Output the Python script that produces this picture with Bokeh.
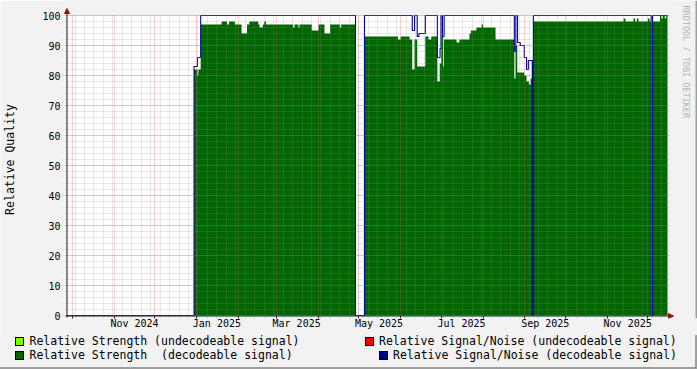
import math
import pandas as pd
from bokeh.plotting import figure
from bokeh.layouts import column
from bokeh.models import (Range1d, FixedTicker, LinearAxis, Grid, Label, Div,
                          BoxAnnotation, Arrow, NormalHead)
from bokeh.embed import file_html
from bokeh.resources import INLINE

# ---------------- data ----------------
X_START = "2024-09-27 10:00"
X_END = "2025-12-15 12:00"

# Relative Strength (decodeable signal): value holds from date until next date
strength_dates = [
    "2024-12-30 02:00", "2025-01-01 14:00", "2025-01-02 06:00", "2025-01-04 00:00",
    "2025-01-19 12:00", "2025-01-23 12:00", "2025-01-25 00:00", "2025-01-29 06:00",
    "2025-02-03 06:00", "2025-02-07 06:00", "2025-02-09 00:00", "2025-02-15 14:00",
    "2025-02-16 14:00", "2025-02-18 22:00", "2025-02-20 02:00", "2025-02-21 07:00",
    "2025-03-13 10:00", "2025-03-14 10:00", "2025-03-17 08:00", "2025-03-18 02:00",
    "2025-03-27 05:00", "2025-04-01 05:00", "2025-04-05 15:00", "2025-04-09 19:00",
    "2025-04-17 00:00", "2025-04-18 00:00", "2025-04-28 14:00", "2025-05-05 05:00",
    "2025-05-30 00:00", "2025-06-01 00:00", "2025-06-07 14:00", "2025-06-09 14:00",
    "2025-06-11 06:00", "2025-06-13 06:00", "2025-06-19 06:00", "2025-06-21 16:00",
    "2025-06-23 16:00", "2025-06-28 04:00", "2025-06-29 22:00", "2025-07-01 02:00",
    "2025-07-02 10:00", "2025-07-03 02:00", "2025-07-12 08:00", "2025-07-14 12:00",
    "2025-07-21 22:00", "2025-07-23 00:00", "2025-07-27 02:00", "2025-07-31 00:00",
    "2025-08-01 00:00", "2025-08-10 05:00", "2025-08-24 03:00", "2025-08-25 00:00",
    "2025-08-26 08:00", "2025-08-31 12:00", "2025-09-02 04:00", "2025-09-03 22:00",
    "2025-09-05 05:00", "2025-09-06 10:00", "2025-09-07 05:00", "2025-11-13 00:00",
    "2025-11-14 10:00", "2025-11-20 08:00", "2025-11-21 12:00", "2025-11-22 18:00",
    "2025-11-24 00:00", "2025-12-01 00:00", "2025-12-02 06:00", "2025-12-03 10:00",
    "2025-12-04 10:00", "2025-12-09 22:00", "2025-12-11 00:00", "2025-12-12 00:00",
    "2025-12-13 12:00", "2025-12-14 12:00",
]
strength_values = [
    82, 80, 82, 97,
    98, 97, 98, 97,
    94, 97, 98, 97,
    96, 97, 98, 97,
    96, 97, 96, 97,
    95, 97, 94, 97,
    96, 97, 0, 93,
    92, 93, 92, 82,
    92, 83, 93, 92,
    93, 78, 84, 93,
    83, 92, 91, 92,
    94, 95, 96, 97,
    96, 92, 79, 90,
    81, 80, 78, 77,
    79, 0, 98, 99,
    98, 99, 98, 99,
    98, 99, 98, 0,
    98, 100, 99, 100,
    99, 100,
]

# Relative Signal/Noise (decodeable signal)
sn_dates = [
    "2024-09-27 10:00", "2024-12-30 02:00", "2025-01-01 14:00", "2025-01-04 00:00",
    "2025-04-28 14:00", "2025-05-05 05:00", "2025-06-09 14:00", "2025-06-11 06:00",
    "2025-06-13 06:00", "2025-06-14 12:00", "2025-06-19 06:00", "2025-06-28 04:00",
    "2025-06-30 04:00", "2025-06-30 20:00", "2025-07-01 22:00", "2025-07-03 04:00",
    "2025-08-24 03:00", "2025-08-25 06:00", "2025-08-26 12:00", "2025-08-28 12:00",
    "2025-08-31 12:00", "2025-09-02 04:00", "2025-09-03 12:00", "2025-09-06 10:00",
    "2025-09-07 05:00", "2025-12-03 10:00", "2025-12-04 10:00",
]
sn_values = [
    0, 83, 86, 100,
    0, 100, 95, 100,
    93, 94, 100, 86,
    89, 100, 93, 100,
    88, 100, 91, 90,
    86, 82, 85, 0,
    100, 0, 100,
]

month_starts = ["2024-10-01", "2024-11-01", "2024-12-01", "2025-01-01", "2025-02-01",
                "2025-03-01", "2025-04-01", "2025-05-01", "2025-06-01", "2025-07-01",
                "2025-08-01", "2025-09-01", "2025-10-01", "2025-11-01", "2025-12-01"]
month_label_dates = ["2024-11-16", "2025-01-16", "2025-03-16", "2025-05-16",
                     "2025-07-16", "2025-09-16", "2025-11-16"]
month_labels = ["Nov 2024", "Jan 2025", "Mar 2025", "May 2025",
                "Jul 2025", "Sep 2025", "Nov 2025"]
y_ticks = [0, 10, 20, 30, 40, 50, 60, 70, 80, 90, 100]
y_minor = list(range(0, 101, 2))

legend_labels = ["Relative Strength (undecodeable signal)",
                 "Relative Strength  (decodeable signal)",
                 "Relative Signal/Noise (undecodeable signal)",
                 "Relative Signal/Noise (decodeable signal)"]
legend_colors = ["#80ff00", "#006600", "#ff0000", "#000090"]
watermark = "RRDTOOL / TOBI OETIKER"

# ---------------- helpers ----------------
EPOCH = pd.Timestamp("1970-01-01")


def day(s):
    return (pd.Timestamp(s) - EPOCH) / pd.Timedelta(days=1)


def step_xy(dates, vals, end):
    xs, ys = [], []
    for i, d in enumerate(dates):
        a = day(d)
        b = day(dates[i + 1]) if i + 1 < len(dates) else day(end)
        xs += [a, b]
        ys += [vals[i], vals[i]]
    return xs, ys


x0, x1 = day(X_START), day(X_END)
span = x1 - x0
W, H = 697, 369
FL, FR, FB = 67, 667, 315          # plot canvas (rrdtool) in page px
FL_FRAME, FT_FRAME, FB_FRAME = 62, 0, 318
MAIN_H = FB_FRAME + 17
BG = "#f2f2f2"
FONT = "DejaVu Sans Mono"


def px_x(px):
    return x0 + (px - FL) * span / (FR - FL)


def px_y(py):
    return (FB - py) / 3.0


# ---------------- main plot ----------------
p = figure(width=W, height=MAIN_H, title=None,
           x_range=Range1d(px_x(FL_FRAME), px_x(W)),
           y_range=Range1d(px_y(FB_FRAME), px_y(FT_FRAME)),
           x_axis_type=None, y_axis_type=None, output_backend="svg",
           toolbar_location=None, min_border_left=FL_FRAME, min_border_right=0,
           min_border_top=FT_FRAME, min_border_bottom=MAIN_H - FB_FRAME,
           background_fill_color=BG, border_fill_color=BG, outline_line_color=None)

# white canvas
p.add_layout(BoxAnnotation(left=x0, right=x1, bottom=0, top=100, fill_color="white",
                           fill_alpha=1.0, line_color=None, level="underlay"))

# data
sx, sy = step_xy(strength_dates, strength_values, X_END)
p.varea(x=sx, y1=0, y2=sy, fill_color="#006600")
nx, ny = step_xy(sn_dates, sn_values, X_END)
p.line(nx, ny, line_color="#000090", line_width=1.1)

# grids (drawn on top like rrdtool)
week_days = [d for d in range(int(math.ceil(x0 / 7)) * 7, int(x1) + 1, 7)]
ms_days = [day(m) for m in month_starts]
vg = Grid(dimension=0, ticker=FixedTicker(ticks=ms_days, minor_ticks=week_days),
          grid_line_color="#de4f4f", grid_line_alpha=0.5, grid_line_dash="1 1",
          minor_grid_line_color="#8f8f8f", minor_grid_line_alpha=0.4,
          minor_grid_line_dash="1 1", level="overlay")
hg = Grid(dimension=1, ticker=FixedTicker(ticks=y_ticks, minor_ticks=y_minor),
          grid_line_color="#de4f4f", grid_line_alpha=0.5, grid_line_dash="1 1",
          minor_grid_line_color="#8f8f8f", minor_grid_line_alpha=0.4,
          minor_grid_line_dash="1 1", level="overlay")
p.add_layout(vg)
p.add_layout(hg)

# background strips over grid ends (rrdtool grid only pokes 2px past the canvas)
for kw in (dict(left=px_x(FR + 2)), dict(bottom=px_y(14.55)), dict(right=px_x(64.5))):
    p.add_layout(BoxAnnotation(fill_color=BG, fill_alpha=1.0, line_color=None,
                               level="overlay", **kw))
# right shade of the image border
p.add_layout(BoxAnnotation(left=px_x(W - 2), fill_color="#9e9e9e", fill_alpha=1.0,
                           line_color=None, level="overlay"))

# axes
lab_days = [int(day(d)) for d in month_label_dates]
xa = LinearAxis(ticker=FixedTicker(ticks=lab_days, minor_ticks=ms_days),
                major_label_overrides=dict(zip(lab_days, month_labels)),
                major_tick_out=0, major_tick_in=0, minor_tick_out=0, minor_tick_in=3,
                major_label_standoff=-1, axis_line_color=None,
                minor_tick_line_color="#1f1f1f",
                major_label_text_font=FONT, major_label_text_font_size="10px",
                major_label_text_color="#000000")
p.add_layout(xa, "below")

ya = LinearAxis(ticker=FixedTicker(ticks=y_ticks, minor_ticks=y_minor),
                bounds=(0, 100),
                major_tick_out=0, major_tick_in=0, minor_tick_out=0, minor_tick_in=0,
                major_label_standoff=2, axis_line_color=None,
                major_label_text_font=FONT, major_label_text_font_size="10px",
                major_label_text_color="#000000",
                axis_label="Relative Quality", axis_label_standoff=22,
                axis_label_text_font=FONT, axis_label_text_font_size="11.5px",
                axis_label_text_font_style="normal", axis_label_text_color="#000000")
p.add_layout(ya, "left")

# axis lines with arrow heads (rrdtool style)
head = dict(size=5, fill_color="#a01010", line_color="#a01010")
p.add_layout(Arrow(x_start=px_x(65), y_start=px_y(315.5), x_end=px_x(673), y_end=px_y(315.5),
                   line_color="#1f1f1f", line_width=1, level="overlay",
                   end=NormalHead(**head)))
p.add_layout(Arrow(x_start=px_x(66.5), y_start=px_y(317), x_end=px_x(66.5), y_end=px_y(8),
                   line_color="#1f1f1f", line_width=1, level="overlay",
                   end=NormalHead(**head)))

# watermark (vertical, reading downwards)
p.add_layout(Label(x=px_x(685), y=px_y(5), text=watermark, angle=-math.pi / 2,
                   text_align="left", text_baseline="alphabetic", level="overlay",
                   text_font=FONT, text_font_size="8.5px", text_color="#b4b4b4"))

# ---------------- legend strip (HTML, below the plot) ----------------
LEG_H = H - MAIN_H
sw_pos = [(15, 337), (15, 351), (365, 337), (379, 351)]
txt_pos = [(29.5, 345), (29.5, 359), (379, 345), (393, 359)]
parts = []
for (sxp, syp), (tx, ty), lab, col in zip(sw_pos, txt_pos, legend_labels, legend_colors):
    parts.append(
        f"<span style='position:absolute;left:{sxp}px;top:{syp - MAIN_H}px;width:9px;"
        f"height:9px;box-sizing:border-box;background:{col};border:1px solid #000;'></span>")
    parts.append(
        f"<span style='position:absolute;left:{tx}px;top:{ty - MAIN_H - 11}px;"
        f"line-height:14px;white-space:pre;color:#000;'>{lab}</span>")
parts.append(f"<span style='position:absolute;left:0;top:{LEG_H - 2}px;width:{W}px;"
             f"height:2px;background:#9e9e9e;'></span>")
parts.append(f"<span style='position:absolute;left:{W - 2}px;top:0;width:2px;"
             f"height:{LEG_H}px;background:#9e9e9e;'></span>")
html = (f"<div style='position:relative;width:{W}px;height:{LEG_H}px;background:{BG};"
        f"overflow:hidden;font-family:\"{FONT}\";font-size:11.5px;margin:0;padding:0;'>"
        + "".join(parts) + "</div>")
leg = Div(text=html, width=W, height=LEG_H, margin=0,
          styles={"background-color": BG})

layout = column(p, leg)
open("out.html", "w").write(file_html(layout, INLINE))
